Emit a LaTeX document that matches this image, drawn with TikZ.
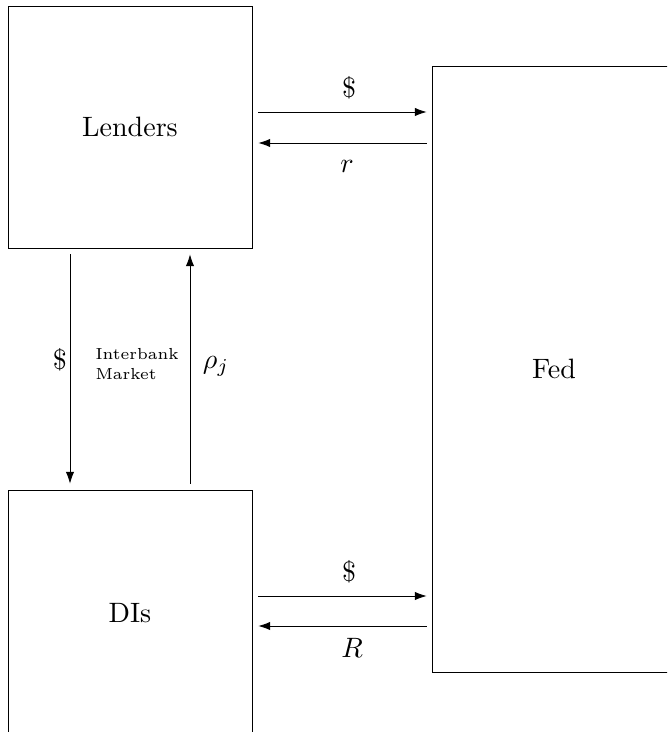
\documentclass[tikz,border=0pt]{standalone}
\usetikzlibrary{arrows.meta}
\begin{document}
\begin{tikzpicture}[x=0.357pt,y=-0.357pt,
  box/.style={draw,line width=0.3pt,inner sep=0pt,minimum width={244*0.357pt},minimum height={242*0.357pt}},
  tall/.style={draw,line width=0.3pt,inner sep=0pt,minimum width={244*0.357pt},minimum height={606*0.357pt}},
  arr/.style={-{Latex[length=4.2pt,width=3pt]},line width=0.3pt},
  lbl/.style={inner sep=0pt}]
\useasboundingbox (0,0) rectangle (667,732);
\clip (0,0) rectangle (667,732);
\node[box] (L) at (130,127) {Lenders};
\node[box,minimum height={246*0.357pt}] (D) at (130,613) {DIs};
\node[tall] (F) at (554,369) {Fed};
% Lenders <-> Fed
\draw[arr] ([shift={(6,-15)}]L.east) -- ([shift={(-5,-257)}]F.west);
\draw[arr] ([shift={(-5,-226)}]F.west) -- ([shift={(6,16)}]L.east);
\node[lbl] (d1) at (349,88) {\$};
\node[lbl] (r1) at (347,166) {$r$};
% DIs <-> Fed
\draw[arr] ([shift={(6,-17)}]D.east) -- ([shift={(-5,227)}]F.west);
\draw[arr] ([shift={(-5,257)}]F.west) -- ([shift={(6,13)}]D.east);
\node[lbl] (d2) at (349,572) {\$};
\node[lbl] (r2) at (352,648) {$R$};
% Interbank
\draw[arr] ([shift={(-60,6)}]L.south) -- ([shift={(-60,-6)}]D.north);
\draw[arr] ([shift={(60,-6)}]D.north) -- ([shift={(60,6)}]L.south);
\node[lbl] (d3) at (60,360) {\$};
\node[lbl,align=left,font=\fontsize{5.7}{7}\selectfont,anchor=west] (im) at (95,364) {Interbank\\Market};
\node[lbl] (rho) at (216,366) {$\rho_j$};
\end{tikzpicture}
\end{document}
